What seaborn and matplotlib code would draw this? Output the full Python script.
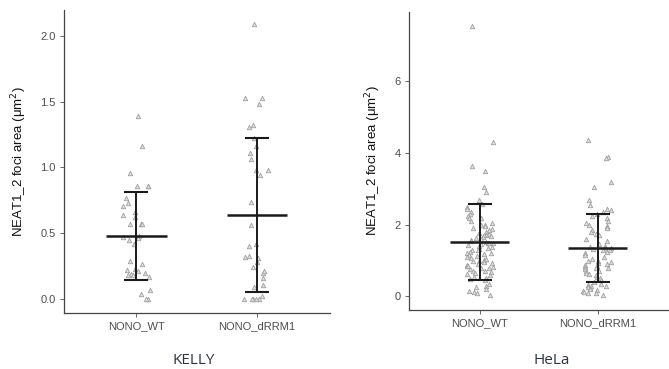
import numpy as np
import pandas as pd
import matplotlib
matplotlib.use("Agg")
import matplotlib.pyplot as plt
import seaborn as sns

# -----------------------------------------
# Data
# -----------------------------------------

groups = ["NONO_WT", "NONO_dRRM1"]

kelly_wt = [1.39, 1.16, 0.96, 0.86, 0.86, 0.86, 0.77, 0.73, 0.71, 0.66, 0.64,
            0.62, 0.57, 0.57, 0.57, 0.48, 0.47, 0.46, 0.45, 0.42, 0.29, 0.27,
            0.23, 0.22, 0.21, 0.20, 0.19, 0.18, 0.18, 0.17, 0.07, 0.04, 0.0, 0.0]
kelly_drrm1 = [2.09, 1.53, 1.53, 1.48, 1.32, 1.31, 1.22, 1.16, 1.11, 1.06, 0.98,
               0.98, 0.94, 0.74, 0.56, 0.42, 0.40, 0.33, 0.31, 0.32, 0.28, 0.24,
               0.20, 0.21, 0.16, 0.11, 0.09, 0.02, 0.0, 0.0, 0.0, 0.0, 0.0]

hela_wt = [7.55, 4.30, 3.65, 3.50, 3.05, 2.90, 2.70, 2.58, 2.50, 2.45,
           2.35, 2.30, 2.25, 2.20, 2.18, 2.10, 2.05, 2.00, 1.98, 1.95, 1.90,
           1.88, 1.85, 1.80, 1.78, 1.75, 1.72, 1.70, 1.68, 1.65, 1.62, 1.60,
           1.58, 1.55, 1.52, 1.50, 1.50, 1.48, 1.45, 1.42, 1.40, 1.38, 1.35,
           1.32, 1.30, 1.28, 1.25, 1.22, 1.20, 1.18, 1.15, 1.12, 1.10, 1.08,
           1.05, 1.02, 1.00, 0.98, 0.95, 0.92, 0.90, 0.88, 0.85, 0.85, 0.82,
           0.80, 0.78, 0.75, 0.72, 0.70, 0.68, 0.65, 0.62, 0.60, 0.55, 0.50,
           0.48, 0.45, 0.35, 0.30, 0.25, 0.20, 0.15, 0.12, 0.08, 0.03]
hela_drrm1 = [4.35, 3.90, 3.85, 3.20, 3.05, 2.70, 2.55, 2.45, 2.40, 2.35,
              2.30, 2.25, 2.20, 2.10, 2.05, 2.00, 1.95, 1.90, 1.85, 1.80, 1.75,
              1.70, 1.60, 1.55, 1.45, 1.40, 1.38, 1.35, 1.35, 1.32, 1.30, 1.28,
              1.25, 1.20, 1.15, 1.10, 1.05, 1.00, 0.98, 0.95, 0.92, 0.90, 0.88,
              0.85, 0.82, 0.80, 0.78, 0.75, 0.72, 0.70, 0.65, 0.62, 0.60, 0.55,
              0.50, 0.45, 0.40, 0.35, 0.32, 0.30, 0.28, 0.25, 0.22, 0.20, 0.18,
              0.15, 0.12, 0.10, 0.08, 0.05]

# mean and SD shown by the crossbars
kelly_mean = [0.48, 0.635]
kelly_sd = [0.335, 0.585]
hela_mean = [1.52, 1.35]
hela_sd = [1.06, 0.96]

kelly_ticks = [0.0, 0.5, 1.0, 1.5, 2.0]
kelly_ticklabels = ["0.0", "0.5", "1.0", "1.5", "2.0"]
hela_ticks = [0, 2, 4, 6]
hela_ticklabels = ["0", "2", "4", "6"]


def make_df(wt, drrm1):
    return pd.DataFrame({
        "group": [groups[0]] * len(wt) + [groups[1]] * len(drrm1),
        "area": wt + drrm1,
    })


# -----------------------------------------
# Plot
# -----------------------------------------

sns.set_theme(style="ticks")
plt.rcParams["font.family"] = ["Liberation Sans", "DejaVu Sans"]

fig = plt.figure(figsize=(6.69, 3.69), dpi=100)
ax1 = fig.add_axes([0.0957, 0.152, 0.397, 0.821])
ax2 = fig.add_axes([0.611, 0.160, 0.388, 0.807])

np.random.seed(3)

panels = [
    (ax1, make_df(kelly_wt, kelly_drrm1), kelly_mean, kelly_sd,
     kelly_ticks, kelly_ticklabels, (-0.105, 2.195), "KELLY", 0.290),
    (ax2, make_df(hela_wt, hela_drrm1), hela_mean, hela_sd,
     hela_ticks, hela_ticklabels, (-0.38, 7.93), "HeLa", 0.825),
]

for ax, df, means, sds, ticks, ticklabels, ylim, title, title_x in panels:

    sns.stripplot(
        data=df, x="group", y="area", order=groups, ax=ax,
        marker="^", size=3.2, jitter=0.12, color="#e0e0e0",
        edgecolor="#a0a0a0", linewidth=0.6, zorder=1
    )

    pos = np.arange(len(groups))
    ax.errorbar(pos, means, yerr=sds, fmt="none", ecolor="#1a1a1a",
                elinewidth=1.4, capsize=8.6, capthick=1.5, zorder=3)
    ax.hlines(means, pos - 0.25, pos + 0.25, color="#1a1a1a",
              linewidth=1.8, zorder=3)

    ax.set_xlim(-0.6, 1.6)
    ax.set_ylim(*ylim)
    ax.set_yticks(ticks)
    ax.set_yticklabels(ticklabels)
    ax.set_xlabel("")
    ax.set_ylabel("NEAT1_2 foci area (μm$^2$)", fontsize=9.5,
                  color="#111111", labelpad=8)

    ax.tick_params(axis="both", labelsize=8, colors="#4d4d4d",
                   length=3, width=0.6, pad=3)
    for side in ["left", "bottom"]:
        ax.spines[side].set_color("#444444")
        ax.spines[side].set_linewidth(0.9)
    sns.despine(ax=ax)

    fig.text(title_x, 1 - 361 / 369, title, ha="center", va="center",
             fontsize=11, color="#2e3440",
             family=["Open Sans", "DejaVu Sans"])

fig.savefig("out.png", dpi=100)
